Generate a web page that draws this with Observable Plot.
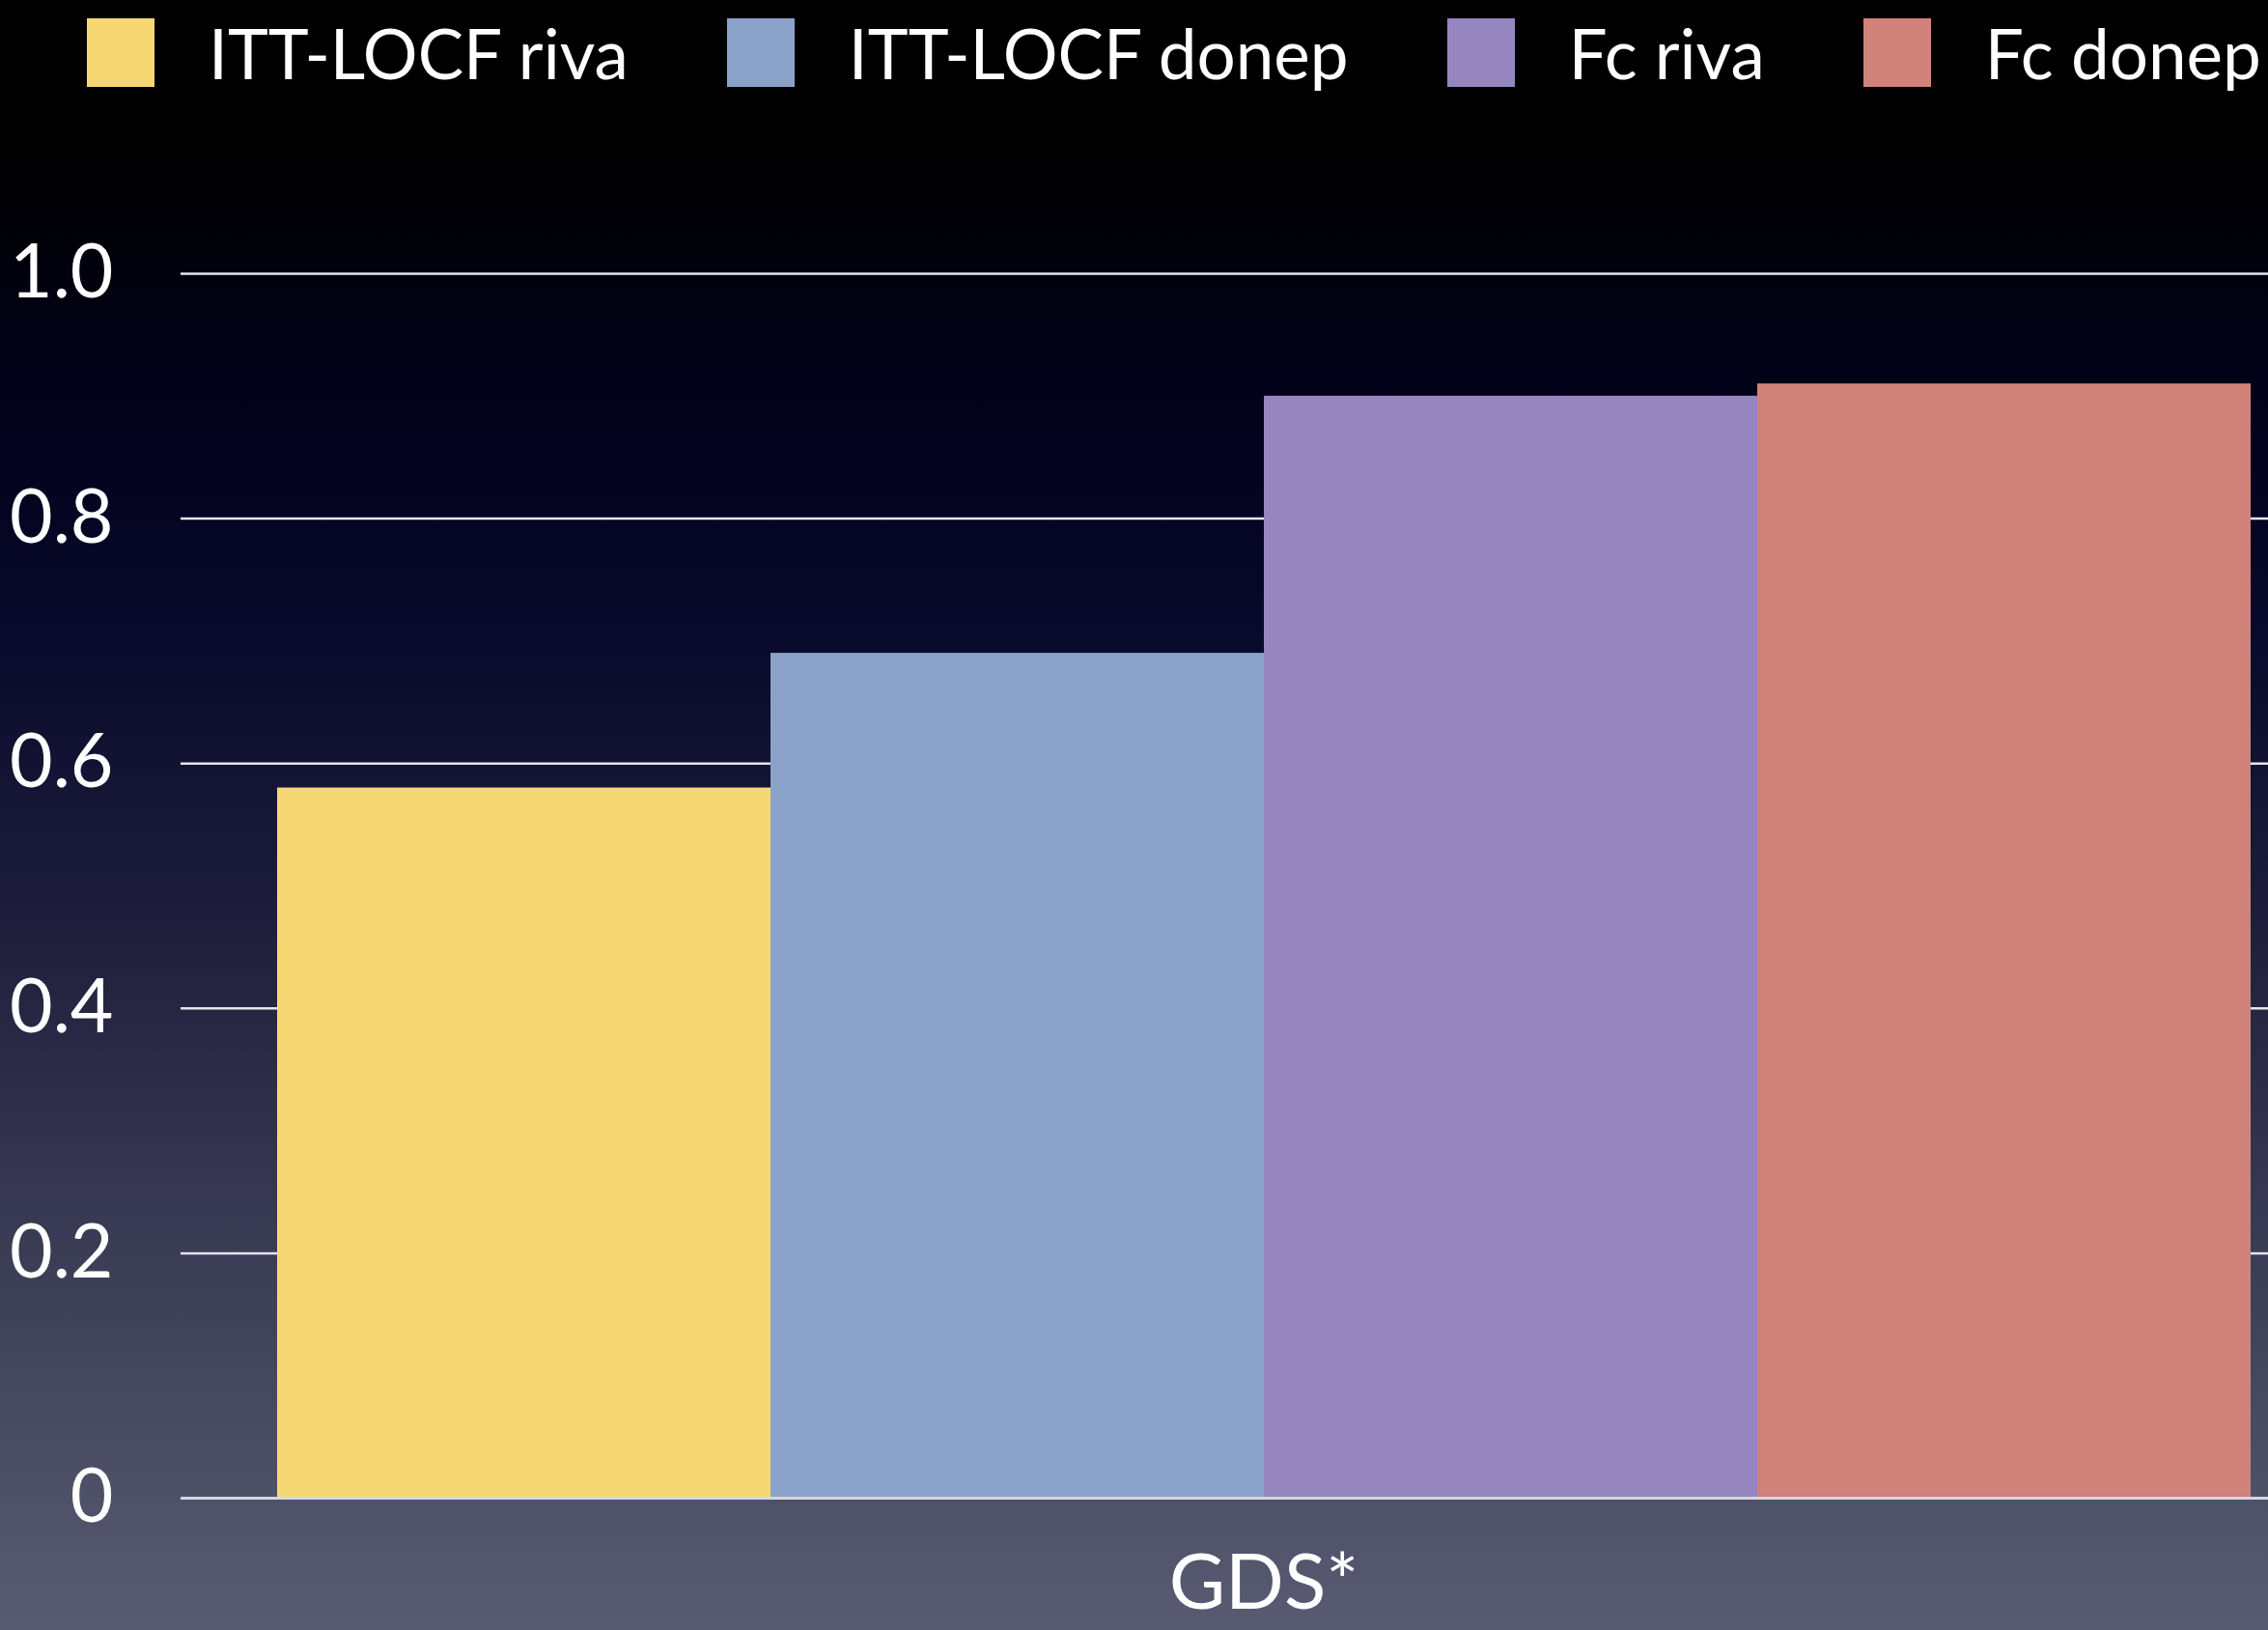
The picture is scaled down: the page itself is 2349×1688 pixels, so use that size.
<!DOCTYPE html>
<html>
<head>
<meta charset="utf-8">
<script src="https://cdn.jsdelivr.net/npm/d3@7"></script>
<script src="https://cdn.jsdelivr.net/npm/@observablehq/plot@0.6"></script>
<style>
  html, body { margin: 0; padding: 0; }
  body {
    width: 2349px; height: 1688px; overflow: hidden;
    background: linear-gradient(to bottom, #000000 0%, #000000 9%, #02021a 24%, #08082a 38%, #1c1c3a 55%, #35354f 72%, #474960 86%, #595b72 100%);
    font-family: Lato, "Open Sans", sans-serif; color: #fff;
  }
  #legend { height: 130px; position: relative; display: flex; align-items: flex-start; padding-left: 90px; box-sizing: border-box; width: 2349px; }
  .item { display: flex; align-items: center; margin-top: 19px; margin-right: 102px; height: 71px; flex-shrink: 0; }
  .sw { width: 70px; height: 71px; margin-right: 56px; flex-shrink: 0; }
  .lb { font-size: 71px; line-height: 71px; white-space: nowrap; }
  #chart svg { display: block; }
</style>
</head>
<body>
<div id="legend"></div>
<div id="chart"></div>
<script>
const groups = ["GDS*"];
const series = ["ITT-LOCF riva", "ITT-LOCF donep", "Fc riva", "Fc donep"];
const values = [0.58, 0.69, 0.90, 0.91];
const colors = ["#f5d873", "#8aa2c8", "#9686c0", "#d0827b"];
const yTicks = [0, 0.2, 0.4, 0.6, 0.8, 1.0];

const data = series.map((s, i) => ({group: groups[0], series: s, value: values[i]}));

const legend = document.getElementById("legend");
series.forEach((s, i) => {
  const it = document.createElement("div");
  it.className = "item";
  const sw = document.createElement("div");
  sw.className = "sw";
  sw.style.background = colors[i];
  const lb = document.createElement("div");
  lb.className = "lb";
  lb.textContent = s;
  it.appendChild(sw); it.appendChild(lb);
  legend.appendChild(it);
});

const chart = Plot.plot({
  width: 2349,
  height: 1558,
  marginTop: 153,
  marginBottom: 137,
  marginLeft: 286,
  marginRight: 18,
  style: {background: "transparent", color: "white", fontFamily: "Lato, 'Open Sans', sans-serif", overflow: "visible"},
  fx: {padding: 0, label: null},
  x: {domain: series, padding: 0, axis: null},
  y: {domain: [0, 1], axis: null},
  color: {domain: series, range: colors},
  marks: [
    Plot.ruleY(yTicks.filter(d => d > 0), {stroke: "#e6e6ee", strokeWidth: 2.5, insetLeft: -99, insetRight: -18}),
    Plot.barY(data, {fx: "group", x: "series", y: "value", fill: "series"}),
    Plot.ruleY([0], {stroke: "#d4d6de", strokeWidth: 3, insetLeft: -99, insetRight: -18}),
    Plot.axisY({ticks: yTicks, tickSize: 0, tickPadding: 169, tickFormat: d => d === 0 ? "0" : d.toFixed(1), fontSize: 77, label: null}),
    Plot.axisFx({anchor: "bottom", tickSize: 0, tickPadding: 58, fontSize: 80, label: null})
  ]
});
document.getElementById("chart").appendChild(chart);
</script>
</body>
</html>
